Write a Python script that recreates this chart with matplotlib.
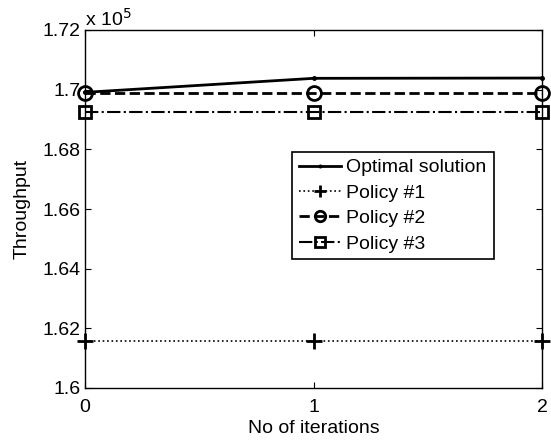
import matplotlib
matplotlib.use("Agg")
import matplotlib.pyplot as plt
from matplotlib.ticker import FuncFormatter

plt.rcParams["font.family"] = ["Liberation Sans", "DejaVu Sans"]
plt.rcParams["font.size"] = 14

iterations = [0, 1, 2]
optimal = [169910, 170380, 170390]
policy1 = [161570, 161570, 161570]
policy2 = [169900, 169900, 169900]
policy3 = [169240, 169240, 169240]

fig = plt.figure(figsize=(5.51, 4.41), dpi=100)
ax = fig.add_axes([85 / 551, 1 - 388 / 441, 457 / 551, 358 / 441])

ax.plot(iterations, optimal, "k-", marker=".", markersize=5, lw=2,
        label="Optimal solution", clip_on=False)
ax.plot(iterations, policy1, "k:", marker="+", markersize=11, mew=2, lw=1.2,
        label="Policy #1", clip_on=False)
ax.plot(iterations, policy2, "k--", marker="o", markersize=10, mew=2, lw=2,
        mfc="none", label="Policy #2", clip_on=False)
ax.plot(iterations, policy3, "k-.", marker="s", markersize=9, mew=2, lw=1.5,
        mfc="none", label="Policy #3", clip_on=False)

ax.set_xlim(0, 2)
ax.set_ylim(160000, 172000)
ax.set_xticks([0, 1, 2])
ax.set_yticks([160000, 162000, 164000, 166000, 168000, 170000, 172000])
ax.yaxis.set_major_formatter(FuncFormatter(lambda v, p: "%g" % round(v / 1e5, 4)))
ax.tick_params(direction="in", top=True, right=True, length=4, width=0.8)
ax.tick_params(axis="y", pad=3)
ax.tick_params(axis="x", pad=8)
for s in ax.spines.values():
    s.set_linewidth(1.0)

ax.text(0, 1.0, r"x 10$^5$", transform=ax.transAxes, ha="left", va="bottom")

ax.set_xlabel("No of iterations", labelpad=3)
ax.set_ylabel("Throughput", labelpad=9)

leg = ax.legend(loc="upper left", bbox_to_anchor=(0.453, 0.659), fancybox=False,
                edgecolor="black", framealpha=1, borderpad=0.35, labelspacing=0.4,
                handlelength=2.15, handletextpad=0.3, borderaxespad=0,
                markerscale=0.75)
leg.get_frame().set_linewidth(1.2)

fig.savefig("out.png", dpi=100)
